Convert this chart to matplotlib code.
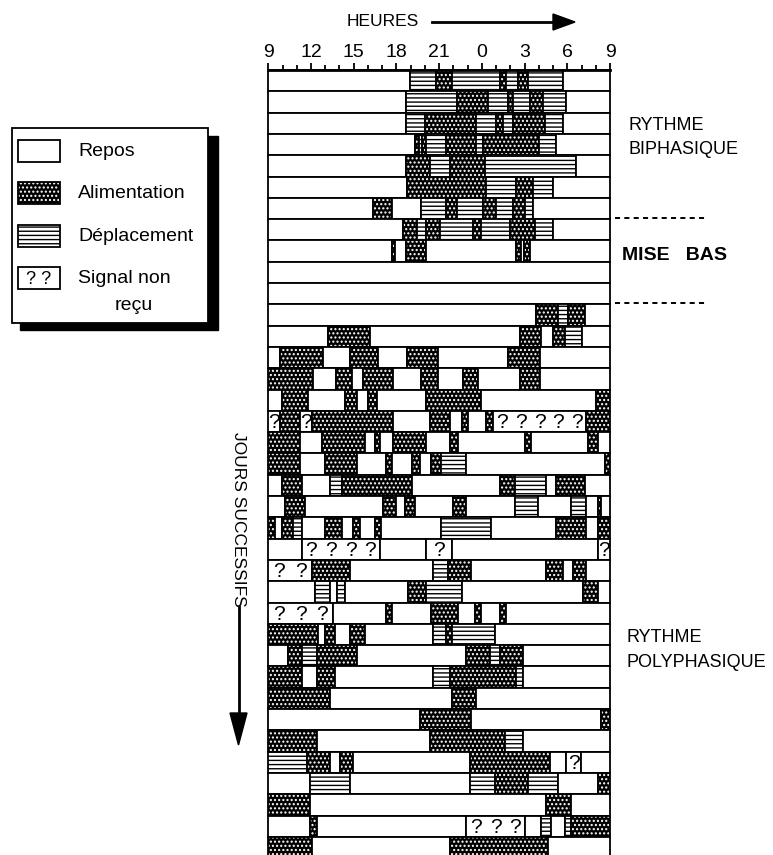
import matplotlib
matplotlib.use("Agg")
import matplotlib.pyplot as plt
from matplotlib.patches import Rectangle, Polygon

# activity codes: R repos, A alimentation, D deplacement, Q signal non recu
# each day: (activity, end hour counted from 9h00), segments follow each other
days = [
    [("R", 9.94), ("D", 11.81), ("A", 12.87), ("D", 16.26), ("A", 16.73), ("D", 17.54), ("A", 18.25), ("D", 20.7), ("R", 24)],
    [("R", 9.66), ("D", 13.22), ("A", 15.44), ("D", 16.84), ("A", 17.19), ("D", 18.36), ("A", 19.3), ("D", 20.94), ("R", 24)],
    [("R", 9.66), ("D", 10.99), ("A", 14.6), ("D", 16.0), ("A", 16.5), ("D", 17.2), ("A", 19.4), ("D", 20.7), ("R", 24)],
    [("R", 10.29), ("A", 10.6), ("D", 10.8), ("A", 11.1), ("D", 12.5), ("A", 14.6), ("D", 15.1), ("A", 19.0), ("D", 20.23), ("R", 24)],
    [("R", 9.7), ("A", 11.35), ("D", 12.75), ("A", 15.2), ("D", 21.6), ("R", 24)],
    [("R", 9.71), ("A", 15.32), ("D", 17.43), ("A", 18.6), ("D", 20.0), ("R", 24)],
    [("R", 7.37), ("A", 8.66), ("R", 10.76), ("D", 12.51), ("A", 13.22), ("D", 15.09), ("A", 16.02), ("D", 17.19), ("A", 18.01), ("D", 18.6), ("R", 24)],
    [("R", 9.43), ("A", 10.41), ("D", 11.1), ("A", 12.05), ("D", 14.39), ("A", 14.97), ("D", 16.96), ("A", 18.71), ("D", 20.0), ("R", 24)],
    [("R", 8.66), ("A", 8.9), ("R", 9.7), ("A", 11.1), ("R", 17.43), ("A", 17.75), ("R", 17.94), ("A", 18.36), ("R", 24)],
    [("R", 24)],
    [("R", 24)],
    [("R", 18.83), ("A", 20.35), ("D", 21.05), ("A", 22.22), ("R", 24)],
    [("R", 4.21), ("A", 7.13), ("R", 17.66), ("A", 19.18), ("R", 20.0), ("A", 20.82), ("D", 22.0), ("R", 24)],
    [("R", 0.82), ("A", 3.86), ("R", 5.73), ("A", 7.72), ("R", 9.71), ("A", 11.93), ("R", 16.84), ("A", 19.06), ("R", 24)],
    [("A", 3.16), ("R", 4.75), ("A", 5.85), ("R", 6.67), ("A", 8.77), ("R", 10.76), ("A", 11.93), ("R", 13.68), ("A", 14.74), ("R", 17.66), ("A", 19.06), ("R", 24)],
    [("R", 0.94), ("A", 2.81), ("R", 5.38), ("A", 6.2), ("R", 7.02), ("A", 7.6), ("R", 11.11), ("A", 14.97), ("R", 23.04), ("A", 24)],
    [("Q", 0.82), ("A", 2.22), ("Q", 3.04), ("A", 8.77), ("R", 11.35), ("A", 12.75), ("R", 13.57), ("A", 14.04), ("R", 15.32), ("A", 15.79), ("Q", 22.34), ("A", 24)],
    [("A", 2.22), ("R", 3.74), ("A", 6.78), ("R", 7.49), ("A", 7.84), ("R", 8.77), ("A", 11.11), ("R", 12.75), ("A", 13.33), ("R", 18.01), ("A", 18.48), ("R", 22.46), ("A", 23.16), ("R", 24)],
    [("A", 2.22), ("R", 3.98), ("A", 6.2), ("R", 8.3), ("A", 8.66), ("R", 10.06), ("A", 10.64), ("R", 11.46), ("A", 12.16), ("D", 13.92), ("R", 23.63), ("A", 24)],
    [("R", 0.94), ("A", 2.34), ("R", 4.33), ("D", 5.15), ("A", 10.06), ("R", 16.26), ("A", 17.31), ("D", 19.53), ("R", 20.23), ("A", 22.22), ("R", 24)],
    [("R", 1.17), ("A", 2.57), ("R", 8.07), ("A", 9.0), ("R", 9.59), ("A", 10.29), ("R", 12.98), ("A", 13.92), ("R", 17.31), ("D", 18.95), ("R", 21.29), ("D", 22.34), ("R", 23.16), ("A", 23.4), ("R", 24)],
    [("A", 0.47), ("R", 0.94), ("A", 1.75), ("D", 2.34), ("R", 3.98), ("A", 5.15), ("R", 5.96), ("A", 6.43), ("R", 7.49), ("A", 7.95), ("R", 12.16), ("D", 15.67), ("R", 20.23), ("A", 22.34), ("R", 23.16), ("A", 24)],
    [("R", 2.34), ("Q", 7.84), ("R", 11.11), ("Q", 12.87), ("R", 23.16), ("Q", 24)],
    [("Q", 3.04), ("A", 5.73), ("R", 11.58), ("D", 12.63), ("A", 14.27), ("R", 19.53), ("A", 20.7), ("R", 21.4), ("A", 22.34), ("R", 24)],
    [("R", 3.27), ("D", 4.33), ("R", 4.8), ("D", 5.38), ("R", 9.82), ("A", 11.11), ("D", 13.57), ("R", 22.11), ("A", 23.16), ("R", 24)],
    [("Q", 4.56), ("R", 8.3), ("A", 8.66), ("R", 11.46), ("A", 13.33), ("R", 14.5), ("A", 14.97), ("R", 16.26), ("A", 16.73), ("R", 24)],
    [("A", 3.51), ("R", 3.98), ("A", 4.68), ("R", 5.73), ("A", 6.78), ("R", 11.58), ("D", 12.51), ("A", 12.87), ("D", 15.9), ("R", 24)],
    [("R", 1.4), ("A", 2.34), ("D", 3.39), ("A", 6.2), ("R", 13.92), ("A", 15.56), ("D", 16.26), ("A", 17.89), ("R", 24)],
    [("A", 2.34), ("R", 3.39), ("A", 4.68), ("R", 11.58), ("D", 12.75), ("A", 17.43), ("D", 17.89), ("R", 24)],
    [("A", 4.33), ("R", 12.87), ("A", 14.62), ("R", 24)],
    [("R", 10.64), ("A", 14.27), ("R", 23.39), ("A", 24)],
    [("A", 3.39), ("R", 11.35), ("A", 16.61), ("D", 17.89), ("R", 24)],
    [("D", 2.69), ("A", 4.33), ("R", 5.03), ("A", 5.96), ("R", 14.15), ("A", 19.77), ("R", 20.94), ("Q", 21.99), ("R", 24)],
    [("R", 2.92), ("D", 5.73), ("R", 14.15), ("D", 15.9), ("A", 18.25), ("D", 20.35), ("R", 23.16), ("A", 24)],
    [("A", 2.92), ("R", 19.53), ("A", 21.29), ("R", 24)],
    [("R", 2.92), ("A", 3.39), ("R", 13.92), ("Q", 18.01), ("R", 19.18), ("D", 19.88), ("R", 20.82), ("D", 21.29), ("A", 24)],
    [("A", 3.04), ("R", 12.75), ("A", 19.65), ("R", 24)],
]

hour_ticks = [0, 3, 6, 9, 12, 15, 18, 21, 24]
hour_labels = ["9", "12", "15", "18", "21", "0", "3", "6", "9"]
legend_codes = ["R", "A", "D", "Q"]
legend_labels = ["Repos", "Alimentation", "Déplacement", "Signal non"]

plt.rcParams['font.family'] = ['Liberation Sans', 'DejaVu Sans']
plt.rcParams['hatch.linewidth'] = 1.0

W, H = 773, 855
fig = plt.figure(figsize=(W / 100, H / 100), dpi=100)

x0, x1, top = 268.3, 610.0, 70.0
row_px = 21.3
ax = fig.add_axes([x0 / W, 0, (x1 - x0) / W, 1 - top / H])
ax.set_xlim(0, 24)
ax.set_ylim((H - top) / row_px, 0)

lw = 1.3


def draw_seg(axis, y, start, width, code, h=1.0):
    if code == "A":
        axis.barh(y, width, left=start, height=h, align="edge", color="black",
                  edgecolor="white", hatch="....", linewidth=0, clip_on=False)
        axis.barh(y, width, left=start, height=h, align="edge", fill=False,
                  edgecolor="black", linewidth=lw, clip_on=False)
    elif code == "D":
        axis.barh(y, width, left=start, height=h, align="edge", color="white",
                  edgecolor="black", hatch="----", linewidth=lw, clip_on=False)
    else:
        axis.barh(y, width, left=start, height=h, align="edge", color="white",
                  edgecolor="black", linewidth=lw, clip_on=False)


for i, day in enumerate(days):
    start = 0.0
    for code, end in day:
        draw_seg(ax, i, start, end - start, code)
        if code == "Q":
            n = max(1, int((end - start) / 1.3))
            step = (end - start) / n
            for k in range(n):
                ax.text(start + step * (k + 0.5), i + 0.55, "?", ha="center",
                        va="center", fontsize=15, clip_on=False)
        start = end

ax.xaxis.tick_top()
ax.set_xticks(hour_ticks)
ax.set_xticklabels(hour_labels, fontsize=14)
ax.set_xticks(range(25), minor=True)
ax.tick_params(axis="x", which="major", length=5, width=1.3, pad=1.5, direction="out")
ax.tick_params(axis="x", which="minor", length=3.5, width=1.3, direction="out")
ax.set_yticks([])
for s in ["left", "right", "bottom"]:
    ax.spines[s].set_visible(False)
ax.spines["top"].set_linewidth(2)
ax.patch.set_visible(False)

# annotations in pixel coordinates
ov = fig.add_axes([0, 0, 1, 1])
ov.set_xlim(0, W)
ov.set_ylim(H, 0)
ov.axis("off")

ov.text(347, 22, "HEURES", fontsize=12.5, ha="left", va="center")
ov.plot([432, 555], [22, 22], color="black", lw=2)
ov.add_patch(Polygon([[553, 14], [575, 22], [553, 30]], closed=True, color="black"))

# legend box with shadow
ov.add_patch(Rectangle((20, 136), 198, 194, color="black"))
ov.add_patch(Rectangle((12, 128), 196, 195, facecolor="white", edgecolor="black", lw=1.3))
sw_y = [140, 182, 225, 267]
for yy, code, lab in zip(sw_y, legend_codes, legend_labels):
    draw_seg(ov, yy, 18, 42, code, h=22)
    ov.text(78, yy + 11, lab, fontsize=14, ha="left", va="center")
    if code == "Q":
        ov.text(39, yy + 12, "? ?", fontsize=13, ha="center", va="center")
ov.text(115, 305, "reçu", fontsize=14, ha="left", va="center")

# right side labels
ov.text(629, 125, "RYTHME", fontsize=13, va="center")
ov.text(629, 149, "BIPHASIQUE", fontsize=13, va="center")
ov.plot([615, 708], [218, 218], color="black", lw=1.4, ls=(0, (2.6, 2.2)))
ov.text(622, 255, "MISE   BAS", fontsize=14, fontweight="bold", va="center")
ov.plot([615, 708], [303, 303], color="black", lw=1.4, ls=(0, (2.6, 2.2)))
ov.text(626, 637, "RYTHME", fontsize=13, va="center")
ov.text(626, 662, "POLYPHASIQUE", fontsize=13, va="center")

# days axis label
ov.text(238, 519, "JOURS SUCCESSIFS", fontsize=12.5, rotation=-90, ha="center", va="center")
ov.plot([238.5, 238.5], [607, 716], color="black", lw=2)
ov.add_patch(Polygon([[230, 713], [247, 713], [238.5, 745]], closed=True, color="black"))

fig.savefig("out.png", dpi=100)
